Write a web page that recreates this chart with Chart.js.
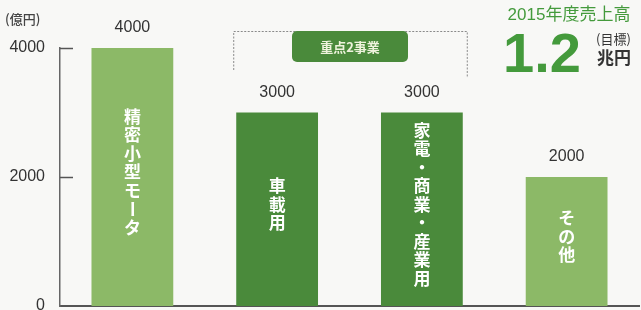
<!DOCTYPE html>
<html>
<head>
<meta charset="utf-8">
<script src="https://cdn.jsdelivr.net/npm/chart.js@4/dist/chart.umd.min.js"></script>
<style>
  html, body { margin: 0; padding: 0; background: #f8f8f6; }
  #wrap { width: 641px; height: 310px; position: relative; }
</style>
</head>
<body>
<div id="wrap"><canvas id="c"></canvas></div>
<script>
const categories = ['精密小型モータ', '車載用', '家電・商業・産業用', 'その他']
const sales = [4000, 3000, 3000, 2000]
const yTicks = [0, 2000, 4000]
const unitLabel = '(億円)'
const focusLabel = '重点2事業'
const focusIndexes = [1, 2]
const targetTitle = '2015年度売上高'
const targetValue = '1.2'
const targetNote = '(目標)'
const targetUnit = '兆円'

const LIGHT = '#8cb967'
const DARK = '#4a8a3b'
const GREEN_TEXT = '#449a3c'
const SANS = '"Liberation Sans", "Noto Sans CJK JP", sans-serif'
const JP = '"Noto Sans CJK JP", sans-serif'

const decorations = {
  id: 'decorations',
  afterDatasetsDraw(chart) {
    const ctx = chart.ctx
    const meta = chart.getDatasetMeta(0)
    const y = chart.scales.y
    ctx.save()

    // tick marks pointing inward
    ctx.strokeStyle = '#555'
    ctx.lineWidth = 1.5
    yTicks.filter(v => v > 0).forEach(v => {
      const py = Math.round(y.getPixelForValue(v)) + 0.5
      ctx.beginPath()
      ctx.moveTo(y.right, py)
      ctx.lineTo(y.right + 13, py)
      ctx.stroke()
    })

    // unit label
    ctx.fillStyle = '#444'
    ctx.font = '500 13px ' + JP
    ctx.textAlign = 'left'
    ctx.textBaseline = 'middle'
    ctx.fillText(unitLabel, 5, 19)

    meta.data.forEach((bar, i) => {
      // value above bar
      ctx.fillStyle = '#333'
      ctx.font = '16px ' + SANS
      ctx.textAlign = 'center'
      ctx.textBaseline = 'middle'
      ctx.fillText(String(sales[i]), bar.x, bar.y - 20)

      // vertical category text
      const chars = Array.from(categories[i])
      const step = 18.5
      const mid = (bar.y + bar.base) / 2 - 5
      let cy = mid - (chars.length - 1) * step / 2
      ctx.fillStyle = '#ffffff'
      ctx.font = 'bold 17px ' + JP
      chars.forEach(ch => {
        ctx.save()
        ctx.translate(bar.x, cy)
        if (ch === 'ー') ctx.rotate(Math.PI / 2)
        ctx.fillText(ch, 0, 0)
        ctx.restore()
        cy += step
      })
    })

    // bracket over focus bars
    const b1 = meta.data[focusIndexes[0]]
    const b2 = meta.data[focusIndexes[focusIndexes.length - 1]]
    const left = b1.x - b1.width / 2 - 3
    const right = b2.x + b2.width / 2 + 4
    const top = 31
    ctx.strokeStyle = '#8a8a8a'
    ctx.lineWidth = 1
    ctx.setLineDash([2, 1.5])
    ctx.beginPath()
    ctx.moveTo(left + 0.5, 70)
    ctx.lineTo(left + 0.5, top + 0.5)
    ctx.lineTo(right + 0.5, top + 0.5)
    ctx.lineTo(right + 0.5, 78)
    ctx.stroke()
    ctx.setLineDash([])

    const cx = (left + right) / 2
    const bw = 116, bh = 31
    ctx.fillStyle = DARK
    ctx.beginPath()
    ctx.roundRect(cx - bw / 2, 31, bw, bh, 5)
    ctx.fill()
    ctx.fillStyle = '#eef3dc'
    ctx.font = 'bold 13px ' + JP
    ctx.textAlign = 'center'
    ctx.textBaseline = 'middle'
    ctx.fillText(focusLabel, cx, 47)

    // headline target
    ctx.fillStyle = GREEN_TEXT
    ctx.font = '17px ' + SANS
    ctx.textAlign = 'center'
    ctx.fillText(targetTitle, 569, 15)
    ctx.font = 'bold 56px ' + SANS
    ctx.textBaseline = 'alphabetic'
    ctx.fillText(targetValue, 542, 72)
    ctx.fillStyle = '#333'
    ctx.font = '13px ' + JP
    ctx.textAlign = 'left'
    ctx.textBaseline = 'middle'
    ctx.fillText(targetNote, 596, 39)
    ctx.font = 'bold 17px ' + JP
    ctx.fillText(targetUnit, 597, 58)

    ctx.restore()
  }
}

new Chart(document.getElementById('c'), {
  type: 'bar',
  data: {
    labels: categories,
    datasets: [{
      data: sales,
      backgroundColor: sales.map((v, i) => focusIndexes.includes(i) ? DARK : LIGHT),
      borderWidth: 0,
      categoryPercentage: 1,
      barPercentage: 0.565
    }]
  },
  options: {
    responsive: true,
    maintainAspectRatio: false,
    animation: false,
    layout: { padding: { top: 48, right: 2, bottom: 4, left: 0 } },
    plugins: {
      legend: { display: false },
      tooltip: { enabled: false }
    },
    scales: {
      x: {
        grid: { display: false, drawTicks: false },
        border: { display: true, color: '#555', width: 2 },
        ticks: { display: false },
        afterFit: s => { s.height = 0; s.paddingLeft = 0; s.paddingRight = 0 }
      },
      y: {
        min: 0,
        max: 4000,
        afterBuildTicks: s => { s.ticks = yTicks.map(v => ({ value: v })) },
        grid: { display: false, drawTicks: false },
        border: { display: true, color: '#666', width: 1.5 },
        ticks: {
          padding: 15,
          color: '#333',
          font: { size: 16, family: SANS },
          callback: v => String(v)
        },
        afterFit: s => { s.width = 60; s.paddingTop = 0; s.paddingBottom = 0 }
      }
    }
  },
  plugins: [decorations]
})
</script>
</body>
</html>
